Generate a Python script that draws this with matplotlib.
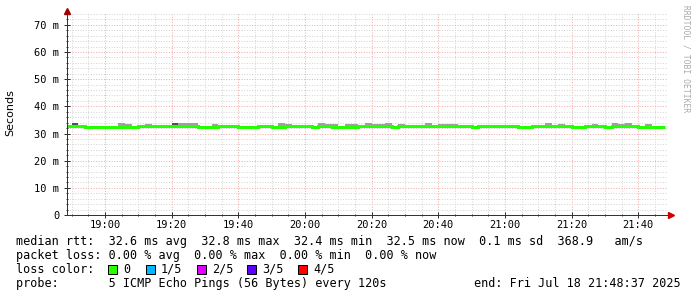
import matplotlib
matplotlib.use("Agg")
import matplotlib.pyplot as plt
import numpy as np
from matplotlib.patches import Rectangle
from matplotlib.ticker import MultipleLocator, FuncFormatter

# median rtt per 120 s step (ms), starting at 18:48
median_ms = [
    32.6, 32.6, 32.6, 32.4, 32.4, 32.4, 32.4, 32.4, 32.4, 32.4,
    32.4, 32.6, 32.6, 32.6, 32.6, 32.6, 32.6, 32.6, 32.8, 32.8,
    32.4, 32.4, 32.4, 32.6, 32.6, 32.6, 32.4, 32.4, 32.4, 32.6,
    32.6, 32.4, 32.4, 32.6, 32.6, 32.6, 32.6, 32.4, 32.6, 32.6,
    32.4, 32.4, 32.4, 32.4, 32.6, 32.6, 32.6, 32.6, 32.6, 32.4,
    32.6, 32.6, 32.6, 32.6, 32.8, 32.6, 32.6, 32.6, 32.6, 32.6,
    32.6, 32.4, 32.6, 32.6, 32.6, 32.6, 32.8, 32.6, 32.4, 32.4,
    32.6, 32.8, 32.8, 32.6, 32.6, 32.6, 32.4, 32.4, 32.6, 32.6,
    32.6, 32.4, 32.6, 32.6, 32.8, 32.6, 32.4, 32.4, 32.4, 32.5,
]

# steps where the smoke (max ping) shows above the median line
smoke_step = [8, 9, 12, 17, 18, 19, 22, 32, 33, 38, 39, 40, 42, 43, 45,
              46, 47, 48, 50, 54, 56, 57, 58, 72, 74, 79, 82, 83, 84, 87]
smoke_max = [34.0, 33.6, 33.6, 33.7, 34.0, 34.0, 33.6, 33.8, 33.6, 34.0,
             33.6, 33.6, 33.6, 33.6, 33.7, 33.6, 33.6, 34.0, 33.6, 33.8,
             33.6, 33.6, 33.6, 33.8, 33.6, 33.6, 33.9, 33.6, 33.8, 33.6]
dark_step = [1, 16]
dark_max = [33.8, 33.8]

loss_labels = ["0", "1/5", "2/5", "3/5", "4/5"]
loss_colors = ["#26ff00", "#00b8ff", "#dd00ff", "#5e00ff", "#ff0000"]

start_min = 18 * 60 + 48          # first step start (minutes of day)
step_min = 2
view_start = 18 * 60 + 48 + 37 / 60
view_end = 21 * 60 + 48 + 37 / 60

W, H = 697, 297
fig = plt.figure(figsize=(W / 100, H / 100), dpi=100)
fig.patch.set_facecolor("white")
ax = fig.add_axes([67 / W, 1 - 215 / H, 600 / W, 201 / H])

edges = start_min + step_min * np.arange(len(median_ms) + 1)
med = np.array(median_ms)

# smoke
ax.bar(edges[smoke_step], np.array(smoke_max) - med[smoke_step], width=step_min,
       bottom=med[smoke_step], align="edge", color="#a0a0a0", linewidth=0, zorder=2)
ax.bar(edges[dark_step], np.array(dark_max) - med[dark_step], width=step_min,
       bottom=med[dark_step], align="edge", color="#505050", linewidth=0, zorder=2)

# median line
ax.stairs(med, edges, baseline=None, color=loss_colors[0], linewidth=2.2, zorder=3)

ax.set_xlim(view_start, view_end)
ax.set_ylim(0, 74)

mono = "DejaVu Sans Mono"
ax.xaxis.set_major_locator(MultipleLocator(20))
ax.xaxis.set_minor_locator(MultipleLocator(5))
ax.xaxis.set_major_formatter(FuncFormatter(lambda v, p: f"{int(v // 60):02d}:{int(v % 60):02d}"))
ax.yaxis.set_major_locator(MultipleLocator(10))
ax.yaxis.set_minor_locator(MultipleLocator(2))
ax.yaxis.set_major_formatter(FuncFormatter(lambda v, p: "0" if v == 0 else f"{v:.0f} m"))

ax.grid(which="minor", color="#d4d4d4", linestyle=(0, (1, 1.6)), linewidth=0.72)
ax.grid(which="major", color="#f0a8a8", linestyle=(0, (1, 1.6)), linewidth=0.72)
ax.set_axisbelow(True)

for s in ("top", "right"):
    ax.spines[s].set_visible(False)
for s in ("left", "bottom"):
    ax.spines[s].set_color("#333333")
    ax.spines[s].set_linewidth(0.72)
    ax.spines[s].set_zorder(4)

ax.tick_params(which="major", direction="inout", length=4, width=0.72, color="#333333",
               labelsize=7.5, labelcolor="#000000")
ax.tick_params(which="minor", direction="inout", length=2, width=0.72, color="#333333")
ax.tick_params(axis="y", pad=3.5)
ax.tick_params(axis="x", pad=1.5)
for lab in ax.get_xticklabels() + ax.get_yticklabels():
    lab.set_family(mono)

# axis arrows
ax.plot([0], [1 + 3 / 201], marker="^", ms=4.5, color="#a00000", transform=ax.transAxes,
        clip_on=False, zorder=5)
ax.plot([1 + 4 / 600], [0], marker=">", ms=4.5, color="#cc0000", transform=ax.transAxes,
        clip_on=False, zorder=5)

fig.text(10 / W, 1 - 113 / H, "Seconds", rotation=90, ha="center", va="center",
         fontsize=8, family="DejaVu Sans")
fig.text(686 / W, 1 - 5 / H, "RRDTOOL / TOBI OETIKER", rotation=270, ha="center", va="top",
         fontsize=5.8, family=mono, color="#aaaaaa")

fs = 8.5
lines = [
    (245.5, "median rtt:  32.6 ms avg  32.8 ms max  32.4 ms min  32.5 ms now  0.1 ms sd  368.9   am/s"),
    (259.0, "packet loss: 0.00 % avg  0.00 % max  0.00 % min  0.00 % now"),
    (273.0, "loss color:"),
    (287.0, "probe:       5 ICMP Echo Pings (56 Bytes) every 120s"),
]
for y, t in lines:
    fig.text(16 / W, 1 - y / H, t, ha="left", va="baseline", fontsize=fs, family=mono)
fig.text(681 / W, 1 - 287.0 / H, "end: Fri Jul 18 21:48:37 2025", ha="right", va="baseline",
         fontsize=fs, family=mono)

box_x = [108, 146, 197, 247, 298]
for bx, lab, col in zip(box_x, loss_labels, loss_colors):
    fig.add_artist(Rectangle((bx / W, 1 - 274 / H), 9 / W, 9 / H, transform=fig.transFigure,
                             facecolor=col, edgecolor="#000000", linewidth=0.72))
    fig.text((bx + 15) / W, 1 - 273.0 / H, lab, ha="left", va="baseline", fontsize=fs, family=mono)

fig.savefig("out.png", dpi=100)
